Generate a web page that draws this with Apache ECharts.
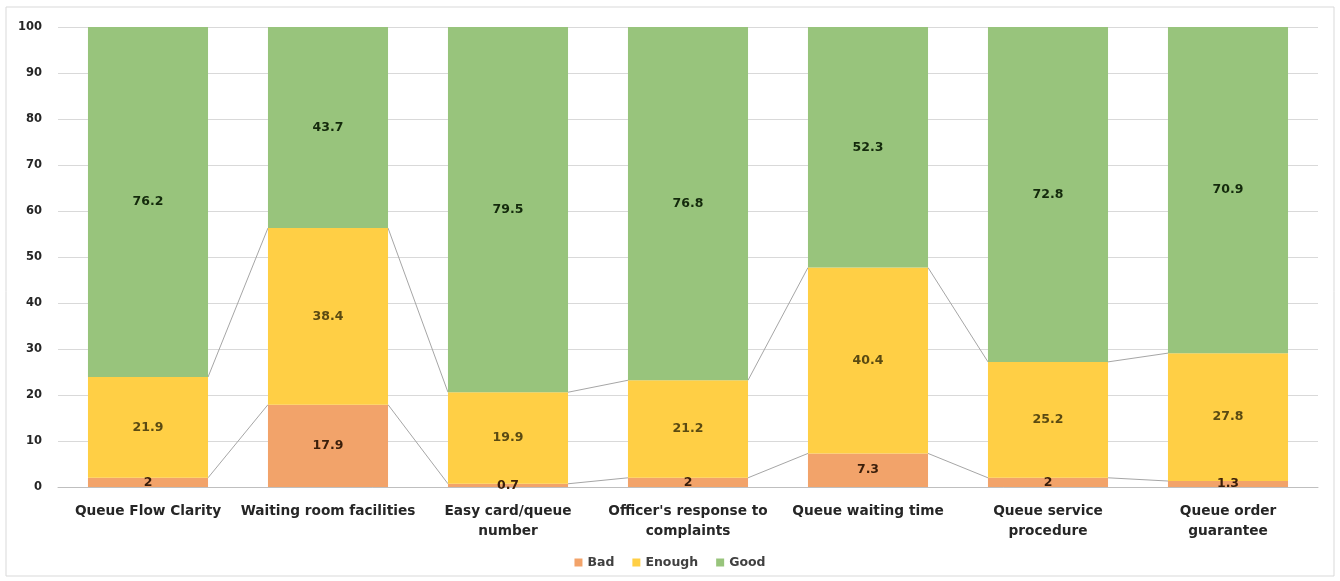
<!DOCTYPE html>
<html>
<head>
<meta charset="utf-8">
<script src="https://cdn.jsdelivr.net/npm/echarts@6/dist/echarts.min.js"></script>
<style>
html,body{margin:0;padding:0;background:#fff;}
#chart{width:1340px;height:581px;}
</style>
</head>
<body>
<div id="chart"></div>
<script>
const categories = [
  'Queue Flow Clarity',
  'Waiting room facilities',
  'Easy card/queue\nnumber',
  "Officer's response to\ncomplaints",
  'Queue waiting time',
  'Queue service\nprocedure',
  'Queue order\nguarantee'
];
const bad = [2, 17.9, 0.7, 2, 7.3, 2, 1.3];
const enough = [21.9, 38.4, 19.9, 21.2, 40.4, 25.2, 27.8];
const good = [76.2, 43.7, 79.5, 76.8, 52.3, 72.8, 70.9];
const yTicks = [0, 10, 20, 30, 40, 50, 60, 70, 80, 90, 100];

const FONT = 'DejaVu Sans';
const BAR_FRAC = 0.667;
const cumBad = bad.slice();
const cumEnough = bad.map((v, i) => v + enough[i]);

function connectorData(cum) {
  const d = [];
  for (let i = 0; i < cum.length - 1; i++) d.push([i, cum[i], cum[i + 1], i + 1]);
  return d;
}

function connectorSeries(cum) {
  return {
    type: 'custom',
    silent: true,
    z: 1,
    data: connectorData(cum),
    renderItem: function (params, api) {
      const p0 = api.coord([api.value(0), api.value(1)]);
      const p1 = api.coord([api.value(3), api.value(2)]);
      const half = api.size([1, 0])[0] * BAR_FRAC / 2;
      return {
        type: 'line',
        shape: { x1: p0[0] + half, y1: p0[1], x2: p1[0] - half, y2: p1[1] },
        style: { stroke: '#a6a6a6', lineWidth: 1 }
      };
    }
  };
}

const labelBase = {
  show: true,
  position: 'inside',
  fontFamily: FONT,
  fontWeight: 'bold',
  fontSize: 12.5
};

const chart = echarts.init(document.getElementById('chart'), null, { renderer: 'canvas' });
chart.setOption({
  animation: false,
  backgroundColor: '#fff',
  graphic: [{
    type: 'rect',
    shape: { x: 6, y: 7, width: 1328, height: 569 },
    style: { fill: 'none', stroke: '#d9d9d9', lineWidth: 1 },
    silent: true
  }],
  legend: {
    data: ['Bad', 'Enough', 'Good'],
    bottom: 7,
    left: 'center',
    icon: 'rect',
    itemWidth: 8,
    itemHeight: 8,
    itemGap: 18,
    textStyle: { fontFamily: FONT, fontWeight: 'bold', fontSize: 12.5, color: '#404040' }
  },
  grid: { left: 58, right: 22, top: 27, bottom: 94, containLabel: false },
  xAxis: {
    type: 'category',
    data: categories,
    axisTick: { show: false },
    axisLine: { lineStyle: { color: '#bfbfbf' } },
    axisLabel: {
      interval: 0,
      margin: 14,
      fontFamily: FONT,
      fontWeight: 'bold',
      fontSize: 13.7,
      lineHeight: 20,
      color: '#262626'
    }
  },
  yAxis: {
    type: 'value',
    min: 0,
    max: 100,
    interval: 10,
    axisLine: { show: false },
    axisTick: { show: false },
    splitLine: { lineStyle: { color: '#d9d9d9' } },
    axisLabel: {
      margin: 16,
      fontFamily: FONT,
      fontWeight: 'bold',
      fontSize: 11.5,
      color: '#262626',
      formatter: function (v) { return yTicks.indexOf(v) >= 0 ? String(v) : ''; }
    }
  },
  series: [
    {
      name: 'Bad', type: 'bar', stack: 's', data: bad,
      barCategoryGap: '33.3%',
      itemStyle: { color: '#F2A36A' },
      label: Object.assign({}, labelBase, { color: '#3a1e0a' })
    },
    {
      name: 'Enough', type: 'bar', stack: 's', data: enough,
      itemStyle: { color: '#FFCF45' },
      label: Object.assign({}, labelBase, { color: '#5a4a12' })
    },
    {
      name: 'Good', type: 'bar', stack: 's', data: good,
      itemStyle: { color: '#98C47C' },
      label: Object.assign({}, labelBase, { color: '#142a0c' })
    },
    connectorSeries(cumBad),
    connectorSeries(cumEnough)
  ]
});
</script>
</body>
</html>
